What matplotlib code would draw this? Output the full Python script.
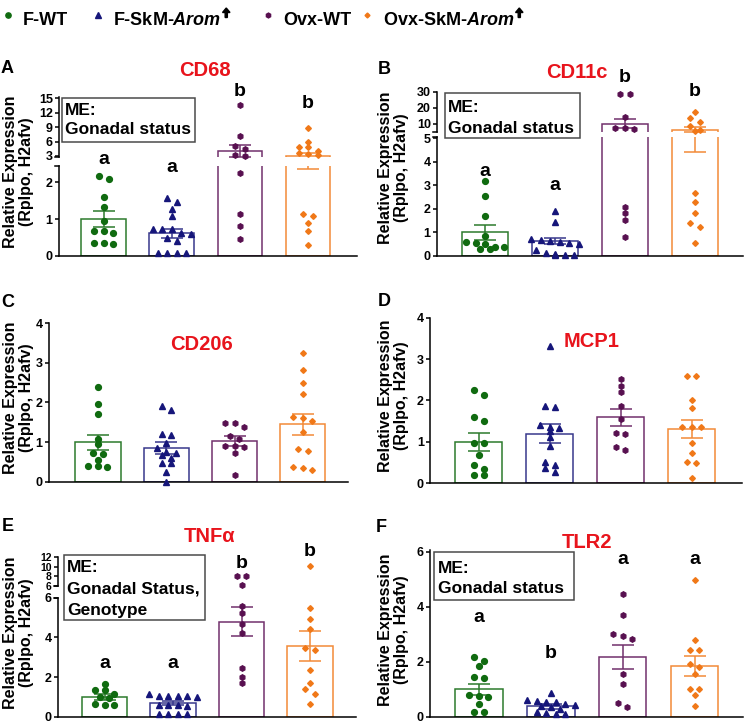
import matplotlib
matplotlib.use("Agg")
import matplotlib.pyplot as plt
from matplotlib.lines import Line2D
from matplotlib.patches import Rectangle, FancyArrow
from matplotlib.transforms import IdentityTransform
import numpy as np

plt.rcParams["font.family"] = ["Liberation Sans", "DejaVu Sans"]
plt.rcParams["font.weight"] = "bold"
plt.rcParams["mathtext.fontset"] = "custom"
plt.rcParams["mathtext.rm"] = "Liberation Sans:bold"
plt.rcParams["mathtext.bf"] = "Liberation Sans:bold"
plt.rcParams["mathtext.it"] = "Liberation Sans:italic:bold"

W, H = 750, 724

# ---------------------------------------------------------------------------
# Data: per gene, points of F-WT, F-SkM-Arom, Ovx-WT,
# Ovx-SkM-Arom, then bar means and SEMs
# ---------------------------------------------------------------------------
groups = ["F-WT", r"F-SkM-$\mathit{Arom}$", "Ovx-WT", r"Ovx-SkM-$\mathit{Arom}$"]
group_arrow = [False, True, False, True]

cd68_points = [
    [2.17, 2.08, 1.6, 1.34, 0.95, 0.68, 0.68, 0.63, 0.35, 0.35, 0.31],
    [1.56, 1.47, 1.26, 1.09, 0.73, 0.73, 0.73, 0.63, 0.6, 0.47, 0.4, 0.06, 0.06, 0.06, 0.06],
    [13.6, 7.2, 5.1, 4.45, 3.2, 2.9, 2.25, 1.15, 0.81, 0.45],
    [8.9, 6.0, 4.9, 4.8, 4.1, 3.6, 3.5, 3.15, 1.15, 1.08, 0.9, 0.67, 0.29],
]
cd68_mean = [1.0, 0.61, 4.1, 3.0]
cd68_sem = [0.21, 0.13, 1.25, 0.65]
cd68_letters = ["a", "a", "b", "b"]

cd11c_points = [
    [3.17, 2.54, 1.7, 0.85, 0.57, 0.55, 0.5, 0.38, 0.38, 0.27, 0.27],
    [1.9, 1.44, 0.7, 0.65, 0.62, 0.58, 0.55, 0.5, 0.25, 0.1, 0.08, 0.05, 0.05, 0.03],
    [28.5, 28.5, 14.2, 7.5, 7.5, 6.5, 2.08, 1.83, 1.54, 0.78],
    [17.6, 13.8, 11.0, 8.5, 5.9, 5.3, 2.65, 2.3, 1.83, 1.4, 1.23, 0.52],
]
cd11c_mean = [1.0, 0.64, 10.0, 6.0]
cd11c_sem = [0.32, 0.13, 3.0, 1.6]
cd11c_letters = ["a", "a", "b", "b"]

cd206_points = [
    [2.38, 1.95, 1.72, 1.08, 0.95, 0.73, 0.71, 0.55, 0.39, 0.36, 0.39],
    [1.92, 1.81, 1.2, 1.17, 0.97, 0.84, 0.76, 0.73, 0.67, 0.6, 0.48, 0.48, 0.24, 0.0],
    [1.48, 1.47, 1.38, 1.15, 1.07, 0.9, 0.9, 0.88, 0.72, 0.18],
    [3.25, 2.83, 2.5, 2.22, 1.64, 1.62, 1.54, 1.26, 0.82, 0.78, 0.36, 0.35, 0.3],
]
cd206_mean = [1.0, 0.86, 1.03, 1.45]
cd206_sem = [0.19, 0.15, 0.12, 0.27]

mcp1_points = [
    [2.25, 2.13, 1.61, 1.5, 0.98, 0.97, 0.68, 0.44, 0.34, 0.2, 0.2],
    [3.32, 1.87, 1.84, 1.4, 1.37, 1.33, 1.26, 1.13, 0.9, 0.52, 0.44, 0.36, 0.27],
    [2.52, 2.35, 2.2, 1.87, 1.55, 1.22, 1.19, 0.88, 0.8],
    [2.58, 2.58, 2.0, 1.83, 1.37, 1.37, 1.37, 0.97, 0.72, 0.52, 0.48, 0.12],
]
mcp1_mean = [1.0, 1.2, 1.59, 1.31]
mcp1_sem = [0.21, 0.23, 0.2, 0.21]

tnfa_points = [
    [1.67, 1.34, 1.34, 1.15, 1.0, 0.95, 0.66, 0.57, 0.57],
    [1.15, 1.07, 1.07, 1.07, 1.05, 0.98, 0.57, 0.57, 0.57, 0.52, 0.16, 0.16, 0.16, 0.16],
    [8.1, 8.1, 6.3, 5.57, 5.2, 4.67, 4.23, 2.43, 2.0, 1.72],
    [10.1, 5.47, 4.93, 4.4, 3.48, 3.36, 2.33, 1.72, 1.39, 1.15, 0.62],
]
tnfa_mean = [1.0, 0.68, 4.79, 3.57]
tnfa_sem = [0.13, 0.09, 0.75, 0.75]
tnfa_letters = ["a", "a", "b", "b"]

tlr2_points = [
    [2.16, 2.04, 1.86, 1.44, 1.4, 0.78, 0.74, 0.72, 0.48, 0.18, 0.18],
    [0.88, 0.6, 0.58, 0.55, 0.52, 0.48, 0.42, 0.38, 0.34, 0.3, 0.18, 0.12, 0.1, 0.1],
    [4.48, 3.7, 3.0, 2.94, 2.82, 1.56, 1.2, 0.5, 0.36],
    [4.96, 2.8, 2.42, 2.42, 1.92, 1.82, 1.56, 1.02, 1.02, 0.78, 0.38],
]
tlr2_mean = [1.0, 0.38, 2.16, 1.85]
tlr2_sem = [0.21, 0.08, 0.44, 0.35]
tlr2_letters = ["a", "b", "a", "a"]

# ---------------------------------------------------------------------------
# Styling
# ---------------------------------------------------------------------------
point_colors = ["#106b10", "#16167a", "#581050", "#f07818"]
edge_colors = ["#2c7a2c", "#38388c", "#72306c", "#f28a38"]
markers = ["o", "^", "h", "D"]
marker_sizes = [4.2, 4.5, 3.9, 2.9]
RED = "#e8141c"
LW = 1.1


def fx(x):
    return x / W


def fy(y):
    return 1 - y / H


def swarm(pix, spacing, tol=5.0):
    """Centre points that sit at about the same height side by side."""
    pix = np.asarray(pix, dtype=float)
    order = np.argsort(pix)
    rows, offs = [], np.zeros(len(pix))
    for i in order:
        if rows and pix[i] - pix[rows[-1][0]] < tol:
            rows[-1].append(i)
        else:
            rows.append([i])
    for row in rows:
        k = len(row)
        for j, i in enumerate(row):
            offs[i] = (j - (k - 1) / 2) * spacing
    return offs


def draw_panel(fig, lay, points, means, sems, title, letters=None, me_lines=None):
    x0, x1 = lay["x_px"]
    segs = lay["segments"]
    axes = []
    for k, (ylim, pb, pt, ticks, tsize) in enumerate(segs):
        ax = fig.add_axes([fx(x0), fy(pb), (x1 - x0) / W, (pb - pt) / H])
        ax.set_xlim(*lay["xlim"])
        ax.set_ylim(*ylim)
        ax.set_yticks(ticks)
        ax.set_xticks([])
        for s in ("top", "right"):
            ax.spines[s].set_visible(False)
        ax.spines["left"].set_linewidth(LW)
        ax.spines["bottom"].set_linewidth(LW)
        if k > 0:
            ax.spines["bottom"].set_visible(False)
        ax.tick_params(axis="y", direction="out", length=3, width=LW,
                       labelsize=tsize, pad=1.5)
        ax.patch.set_alpha(0)
        if len(segs) > 1:
            yb = 1.0 if k == 0 else 0.0
            ax.plot([-0.012, 0.0], [yb, yb], transform=ax.transAxes,
                    color="black", lw=LW, clip_on=False)
        axes.append(ax)

    xs = np.arange(len(means))
    for ax in axes:
        ax.bar(xs, means, width=0.66, facecolor="white", edgecolor=edge_colors,
               linewidth=LW, zorder=2)
        for i in xs:
            ax.errorbar(i, means[i], yerr=sems[i], fmt="none", ecolor=edge_colors[i],
                        elinewidth=LW, capsize=8, capthick=LW, zorder=3)

    px_per_x = (x1 - x0) / (lay["xlim"][1] - lay["xlim"][0])
    spacing = 9.5 / px_per_x

    def seg_index(v):
        if len(segs) == 1 or v <= segs[0][0][1]:
            return 0
        return 1

    def to_px(v):
        (y0, y1), pb, pt = segs[seg_index(v)][:3]
        return pb - (v - y0) / (y1 - y0) * (pb - pt)

    for i, vals in enumerate(points):
        vals = np.asarray(vals)
        offs = swarm([to_px(v) for v in vals], spacing)
        idx = np.array([seg_index(v) for v in vals])
        for k, ax in enumerate(axes):
            sel = idx == k
            ax.plot(i + offs[sel], vals[sel], ls="none", marker=markers[i],
                    ms=marker_sizes[i], color=point_colors[i], mec=point_colors[i],
                    zorder=4, clip_on=False)

    if letters is not None:
        for i, (lt, ly) in enumerate(zip(letters, lay["letters_y"])):
            xpix = x0 + (i - lay["xlim"][0]) * px_per_x
            fig.text(fx(xpix), fy(ly), lt, ha="center", va="center",
                     fontsize=14, fontweight="bold")

    tx, ty = lay["title_xy"]
    fig.text(fx(tx), fy(ty), title, color=RED, ha="center", va="center",
             fontsize=14.5, fontweight="bold")
    lx, ly, lt = lay["label"]
    fig.text(fx(lx), fy(ly), lt, ha="center", va="center", fontsize=13,
             fontweight="bold")
    yx, yy = lay["ylabel_xy"]
    fig.text(fx(yx), fy(yy), "Relative Expression\n(Rplpo, H2afv)", rotation=90,
             ha="center", va="center", fontsize=11.5, fontweight="bold",
             linespacing=1.05)

    if me_lines is not None:
        bx0, by0, bx1, by1 = lay["me_box"]
        fig.add_artist(Rectangle((fx(bx0), fy(by1)), (bx1 - bx0) / W, (by1 - by0) / H,
                                 transform=fig.transFigure, facecolor="white",
                                 edgecolor="#4a4a4a", linewidth=LW, zorder=5))
        for line, base in zip(me_lines, lay["me_baselines"]):
            fig.text(fx(lay["me_x"]), fy(base), line, ha="left", va="baseline",
                     fontsize=12.5, fontweight="bold", zorder=6)
    return axes


layouts = {
    "A": dict(x_px=(59, 357), xlim=(-0.66, 3.72),
              segments=[((0, 2.45), 255.7, 165.8, [0, 1, 2], 9),
                        ((2.7, 15.2), 157.4, 97.3, [3, 6, 9, 12, 15], 9)],
              letters_y=[160, 168, 91, 103], title_xy=(205, 70),
              label=(7.5, 68.5, "A"), ylabel_xy=(18.5, 172),
              me_box=(62, 98, 195, 142), me_x=65, me_baselines=[115, 134]),
    "B": dict(x_px=(437, 743), xlim=(-0.686, 3.686),
              segments=[((0, 5.05), 255.7, 137.0, [0, 1, 2, 3, 4, 5], 9),
                        ((5, 30.3), 131.5, 91.5, [10, 20, 30], 9)],
              letters_y=[172, 185, 78, 92], title_xy=(577, 73),
              label=(384, 69, "B"), ylabel_xy=(393.5, 168),
              me_box=(445, 93, 580, 138), me_x=448, me_baselines=[112, 133]),
    "C": dict(x_px=(49, 348), xlim=(-0.717, 3.66),
              segments=[((0, 4), 481.7, 323.3, [0, 1, 2, 3, 4], 9)],
              title_xy=(202, 345), label=(7.5, 302.5, "C"), ylabel_xy=(18.5, 397.5)),
    "D": dict(x_px=(430, 742), xlim=(-0.687, 3.708),
              segments=[((0, 4), 483.3, 317.7, [0, 1, 2, 3, 4], 9)],
              title_xy=(592, 342), label=(384, 301.5, "D"), ylabel_xy=(393.5, 396)),
    "E": dict(x_px=(58, 356), xlim=(-0.679, 3.67),
              segments=[((0, 6), 716.8, 597.5, [0, 2, 4, 6], 9),
                        ((6, 12.1), 586, 556.5, [6, 8, 10, 12], 7.5)],
              letters_y=[664, 664, 563, 552], title_xy=(210, 537),
              label=(7.5, 526.5, "E"), ylabel_xy=(18.5, 633),
              me_box=(64, 555, 205, 620), me_x=67, me_baselines=[572, 593.5, 615]),
    "F": dict(x_px=(430, 743), xlim=(-0.682, 3.675),
              segments=[((0, 6.05), 716.8, 550.3, [0, 2, 4, 6], 9)],
              letters_y=[617, 654, 560, 560], title_xy=(587, 542),
              label=(381, 527, "F"), ylabel_xy=(393.5, 630),
              me_box=(434, 552, 574, 600), me_x=438, me_baselines=[573, 593]),
}

fig = plt.figure(figsize=(W / 100, H / 100), dpi=100)

draw_panel(fig, layouts["A"], cd68_points, cd68_mean, cd68_sem, "CD68",
           cd68_letters, ["ME:", "Gonadal status"])
draw_panel(fig, layouts["B"], cd11c_points, cd11c_mean, cd11c_sem, "CD11c",
           cd11c_letters, ["ME:", "Gonadal status"])
draw_panel(fig, layouts["C"], cd206_points, cd206_mean, cd206_sem, "CD206")
draw_panel(fig, layouts["D"], mcp1_points, mcp1_mean, mcp1_sem, "MCP1")
draw_panel(fig, layouts["E"], tnfa_points, tnfa_mean, tnfa_sem, "TNFα",
           tnfa_letters, ["ME:", "Gonadal Status,", "Genotype"])
draw_panel(fig, layouts["F"], tlr2_points, tlr2_mean, tlr2_sem, "TLR2",
           tlr2_letters, ["ME:", "Gonadal status"])

# legend across the top
legend_marker_x = [7.5, 98, 268, 367]
legend_text_x = [23, 113, 283, 383]
renderer = fig.canvas.get_renderer()
for i, name in enumerate(groups):
    fig.add_artist(Line2D([fx(legend_marker_x[i])], [fy(15)], marker=markers[i],
                          ms=marker_sizes[i] - 0.4, color=point_colors[i],
                          ls="none", transform=fig.transFigure))
    t = fig.text(fx(legend_text_x[i]), fy(25), name, ha="left", va="baseline",
                 fontsize=13, fontweight="bold")
    if group_arrow[i]:
        x_mid = t.get_window_extent(renderer).x1 + 5
        fig.add_artist(FancyArrow(x_mid, H - 17.5, 0, 9.5, width=2.2,
                                  head_width=7.5, head_length=4.5,
                                  length_includes_head=True, color="black",
                                  transform=IdentityTransform()))

fig.savefig("out.png", dpi=100)
